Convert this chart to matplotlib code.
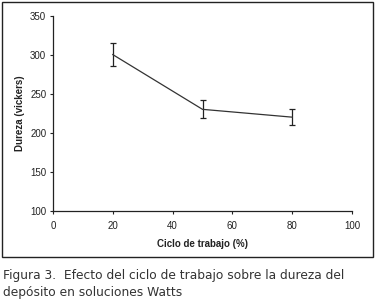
import matplotlib
matplotlib.use("Agg")
import matplotlib.pyplot as plt
from matplotlib.patches import Rectangle

ciclo = [20, 50, 80]
dureza = [300, 230, 220]
error = [15, 11.5, 10.5]
xticks = [0, 20, 40, 60, 80, 100]
yticks = [100, 150, 200, 250, 300, 350]

W, H = 377, 306
fig = plt.figure(figsize=(W/100, H/100), dpi=100)
fig.patch.set_facecolor("white")

# axes position in pixels: left 53, right 352, top 15.5, bottom 211
l, r, t, b = 53, 352, 15.5, 211
ax = fig.add_axes([l/W, 1 - b/H, (r-l)/W, (b-t)/H])
ax.errorbar(ciclo, dureza, yerr=error, color="#333333", lw=0.9,
            ecolor="#222222", elinewidth=0.9, capsize=2.5, capthick=0.9)
ax.set_xlim(0, 100)
ax.set_ylim(100, 350)
ax.set_xticks(xticks)
ax.set_yticks(yticks)
for s in ["top", "right"]:
    ax.spines[s].set_visible(False)
for s in ["left", "bottom"]:
    ax.spines[s].set_linewidth(0.9)
    ax.spines[s].set_color("#222222")
ax.tick_params(direction="out", length=2.5, width=0.8, labelsize=7,
               colors="#222222")
ax.tick_params(axis="y", pad=2.4)
ax.tick_params(axis="x", pad=4.5)
for lab in ax.get_xticklabels() + ax.get_yticklabels():
    lab.set_family("Liberation Sans")
ax.set_xlabel("Ciclo de trabajo (%)", fontsize=7, fontweight="bold",
              family="Liberation Sans", labelpad=6, color="#222222")
ax.set_ylabel("Dureza (vickers)", fontsize=7, fontweight="bold",
              family="Liberation Sans", labelpad=4, color="#222222")

# outer frame
fig.patches.append(Rectangle((2/W, 1 - 257/H), 371/W, 255/H,
                             transform=fig.transFigure, fill=False,
                             lw=1.0, edgecolor="#222222"))

fig.text(3/W, 1 - 279.5/H, "Figura 3.  Efecto del ciclo de trabajo sobre la dureza del",
         fontsize=8.8, family="DejaVu Sans", color="#333333", va="baseline")
fig.text(3/W, 1 - 296/H, "depósito en soluciones Watts",
         fontsize=8.8, family="DejaVu Sans", color="#333333", va="baseline")

fig.savefig("out.png", dpi=100)
